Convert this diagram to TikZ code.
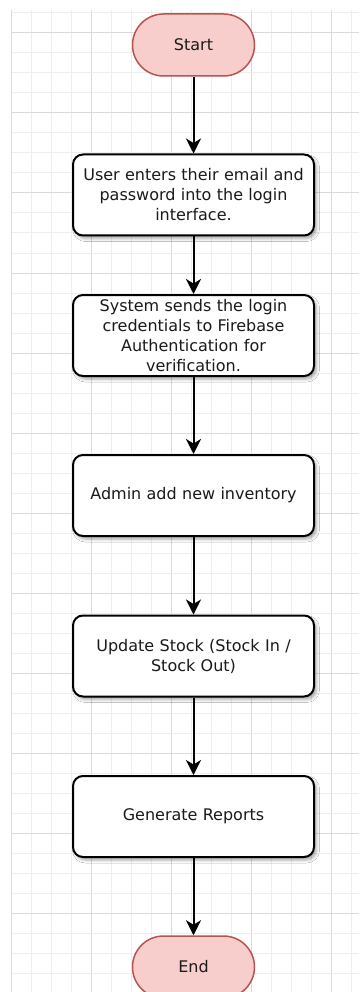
\documentclass[tikz,border=0pt]{standalone}
\usepackage{fontspec}
\setmainfont{DejaVu Sans}
\usetikzlibrary{arrows.meta,shadows.blur}
\definecolor{termfill}{HTML}{F8CECC}
\definecolor{termdraw}{HTML}{B85450}
\definecolor{gridminor}{HTML}{EEEEEE}
\definecolor{gridmajor}{HTML}{DADADA}
\definecolor{txt}{HTML}{1A1A1A}
\tikzset{
  term/.style={draw=termdraw, fill=termfill, line width=1.5pt,
    minimum width=122pt, minimum height=62pt, rounded corners=31pt,
    inner sep=0pt, text=txt, font=\fontsize{16}{20}\selectfont},
  stepbox/.style={draw=black, fill=white, line width=2pt,
    minimum width=241pt, minimum height=81pt, rounded corners=10pt,
    inner sep=0pt, text width=232pt, align=center, text=txt,
    font=\fontsize{16}{20}\selectfont,
    blur shadow={shadow xshift=2.5pt, shadow yshift=-3pt, shadow blur radius=3pt, shadow opacity=35}},
  arr/.style={draw=black, line width=2pt, -{Stealth[length=15pt,width=15pt,inset=4.5pt]}},
}
\begin{document}
\begin{tikzpicture}[x=1pt,y=-1pt]
\useasboundingbox (0,0) rectangle (359,992);
\fill[white] (0,0) rectangle (359,992);
% grid
\foreach \k in {0,...,17}{
  \pgfmathsetmacro\xx{11.7+20*\k}
  \pgfmathtruncatemacro\mm{mod(\k,4)}
  \ifnum\mm=0
    \draw[gridmajor, line width=1pt] (\xx,10) -- (\xx,992);
  \else
    \draw[gridminor, line width=1pt] (\xx,10) -- (\xx,992);
  \fi
}
\foreach \k in {0,...,48}{
  \pgfmathsetmacro\yy{13+20*\k}
  \pgfmathtruncatemacro\mm{mod(\k,4)}
  \ifnum\mm=1
    \draw[gridmajor, line width=1pt] (11.7,\yy) -- (359,\yy);
  \else
    \draw[gridminor, line width=1pt] (11.7,\yy) -- (359,\yy);
  \fi
}
% nodes
\node[term] (start) at (193.5,45) {Start};
\node[stepbox] (b1) at (193.5,195) {User enters their email and\\ password into the login\\ interface.};
\node[stepbox] (b2) at (193.5,335.5) {System sends the login\\ credentials to Firebase\\ Authentication for\\ verification.};
\node[stepbox] (b3) at (193.5,495.5) {Admin add new inventory};
\node[stepbox] (b4) at (193.5,656) {Update Stock (Stock In /\\ Stock Out)};
\node[stepbox] (b5) at (193.5,816.5) {Generate Reports};
\node[term] (end) at (193.5,967) {End};
% connectors
\draw[arr] (start) -- (b1);
\draw[arr] (b1) -- (b2);
\draw[arr] (b2) -- (b3);
\draw[arr] (b3) -- (b4);
\draw[arr] (b4) -- (b5);
\draw[arr] (b5) -- (end);
\end{tikzpicture}
\end{document}
